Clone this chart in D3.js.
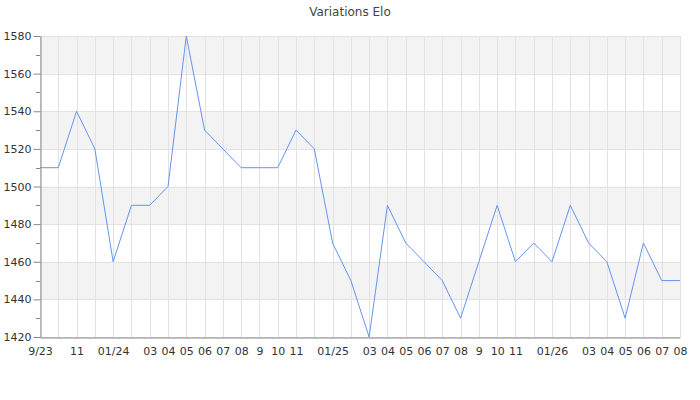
<!DOCTYPE html>
<html>
<head>
<meta charset="utf-8">
<script src="https://cdn.jsdelivr.net/npm/d3@7"></script>
<style>
  body { margin: 0; background: #fff; }
  svg { display: block; }
  svg text { font-family: "DejaVu Sans", sans-serif; }
</style>
</head>
<body>
<svg id="chart" width="700" height="400"></svg>
<script>
// Months from Sep 2023 to Aug 2026
const months = ["2023-09","2023-10","2023-11","2023-12","2024-01","2024-02","2024-03","2024-04","2024-05","2024-06","2024-07","2024-08","2024-09","2024-10","2024-11","2024-12","2025-01","2025-02","2025-03","2025-04","2025-05","2025-06","2025-07","2025-08","2025-09","2025-10","2025-11","2025-12","2026-01","2026-02","2026-03","2026-04","2026-05","2026-06","2026-07","2026-08"];
const tickLabels = ["9/23","","11","","01/24","","03","04","05","06","07","08","9","10","11","","01/25","","03","04","05","06","07","08","9","10","11","","01/26","","03","04","05","06","07","08"];
const elo = [1510,1510,1540,1520,1460,1490,1490,1500,1580,1530,1520,1510,1510,1510,1530,1520,1470,1450,1420,1490,1470,1460,1450,1430,1460,1490,1460,1470,1460,1490,1470,1460,1430,1470,1450,1450];
const yTicks = [1420,1440,1460,1480,1500,1520,1540,1560,1580];
const yMinorTicks = [1430,1450,1470,1490,1510,1530,1550,1570];
const title = "Variations Elo";

const svg = d3.select("#chart");
const m = {left: 40, right: 20, top: 36, bottom: 63};
const W = 700, H = 400;
const x = d3.scalePoint().domain(months).range([m.left, W - m.right]);
const y = d3.scaleLinear().domain([1420, 1580]).range([H - m.bottom, m.top]);

// alternating bands
const bands = [[1440,1460],[1480,1500],[1520,1540],[1560,1580]];
svg.append("g").selectAll("rect").data(bands).join("rect")
  .attr("x", m.left).attr("width", W - m.right - m.left)
  .attr("y", d => y(d[1])).attr("height", d => y(d[0]) - y(d[1]))
  .attr("fill", "#f3f3f3");

// horizontal grid
svg.append("g").selectAll("line").data(yTicks).join("line")
  .attr("x1", m.left).attr("x2", W - m.right)
  .attr("y1", d => Math.round(y(d)) + 0.5).attr("y2", d => Math.round(y(d)) + 0.5)
  .attr("stroke", "#e2e2e2");

// vertical grid
svg.append("g").selectAll("line").data(months).join("line")
  .attr("x1", d => Math.round(x(d)) + 0.5).attr("x2", d => Math.round(x(d)) + 0.5)
  .attr("y1", m.top).attr("y2", H - m.bottom)
  .attr("stroke", "#e2e2e2");

// line
const line = d3.line().x((d, i) => x(months[i])).y(d => y(d));
svg.append("path").datum(elo)
  .attr("d", line).attr("fill", "none")
  .attr("stroke", "#6495ed").attr("stroke-width", 1);

// y axis
const yAxis = svg.append("g").attr("transform", `translate(${m.left + 0.5},0)`)
  .call(d3.axisLeft(y).tickValues(yTicks).tickSize(7).tickSizeOuter(0).tickPadding(2).tickFormat(d3.format("d")));
yAxis.attr("font-family", null).attr("font-size", null);
yAxis.select(".domain").attr("stroke", "#888");
yAxis.selectAll(".tick line").attr("stroke", "#888");
yAxis.selectAll("text").attr("fill", "#333").style("font-size", "11px");
svg.append("g").selectAll("line").data(yMinorTicks).join("line")
  .attr("x1", m.left - 4).attr("x2", m.left)
  .attr("y1", d => Math.round(y(d)) + 0.5).attr("y2", d => Math.round(y(d)) + 0.5)
  .attr("stroke", "#888");

// x axis
const xAxis = svg.append("g").attr("transform", `translate(0,${H - m.bottom + 0.5})`)
  .call(d3.axisBottom(x).tickSize(0).tickPadding(10).tickFormat((d, i) => tickLabels[i]));
xAxis.attr("font-family", null).attr("font-size", null);
xAxis.select(".domain").attr("stroke", "#888");
xAxis.selectAll("text").attr("fill", "#333").style("font-size", "11px");

// title
svg.append("text").attr("x", 350).attr("y", 16).attr("text-anchor", "middle")
  .attr("fill", "#444").style("font-size", "12px").text(title);
</script>
</body>
</html>
